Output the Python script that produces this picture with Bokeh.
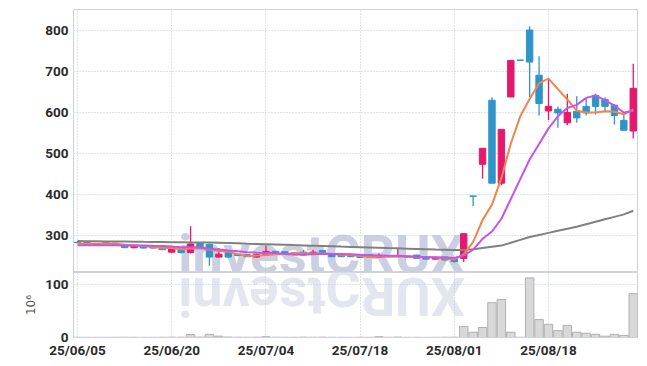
import math
from bokeh.plotting import figure
from bokeh.layouts import column
from bokeh.models import ColumnDataSource, FixedTicker, Label, Range1d
from bokeh.embed import file_html
from bokeh.resources import INLINE

# ---------------- data ----------------
dates = [
    "25/06/05", "25/06/09", "25/06/10", "25/06/11", "25/06/12", "25/06/13",
    "25/06/16", "25/06/17", "25/06/18", "25/06/19", "25/06/20", "25/06/23",
    "25/06/24", "25/06/25", "25/06/26", "25/06/27", "25/06/30", "25/07/01",
    "25/07/02", "25/07/03", "25/07/04", "25/07/07", "25/07/08", "25/07/09",
    "25/07/10", "25/07/11", "25/07/14", "25/07/15", "25/07/16", "25/07/17",
    "25/07/18", "25/07/21", "25/07/22", "25/07/23", "25/07/24", "25/07/25",
    "25/07/28", "25/07/29", "25/07/30", "25/07/31", "25/08/01", "25/08/04",
    "25/08/05", "25/08/06", "25/08/07", "25/08/08", "25/08/11", "25/08/12",
    "25/08/13", "25/08/14", "25/08/18", "25/08/19", "25/08/20", "25/08/21",
    "25/08/22", "25/08/25", "25/08/26", "25/08/27", "25/08/28", "25/08/29",
]
opens = [284, 284, 277, 283, 282, 279, 271, 274, 275, 271,
         260, 267, 259, 282, 279, 248, 259, 255, 254, 248,
         252, 262, 261, 255, 260, 256, 264, 256, 254, 252,
         251, 254, 247, 251, 249, 249, 253, 248, 243, 248,
         244, 245, 397, 474, 630, 428, 638, 728, 801, 691,
         604, 608, 575, 603, 615, 642, 632, 618, 581, 555]
highs = [287, 285, 282, 284, 283, 280, 276, 275, 276, 272,
         271, 268, 323, 284, 281, 270, 260, 256, 255, 256,
         276, 263, 262, 259, 265, 265, 266, 257, 255, 253,
         252, 255, 257, 252, 268, 250, 254, 249, 248, 249,
         245, 306, 397, 513, 637, 559, 727, 728, 810, 737,
         683, 615, 646, 640, 634, 646, 637, 621, 595, 719]
lows = [282, 278, 276, 280, 278, 270, 269, 269, 269, 265,
        259, 257, 257, 272, 227, 247, 247, 250, 248, 247,
        251, 255, 255, 254, 252, 255, 257, 248, 248, 248,
        246, 246, 246, 248, 248, 247, 244, 242, 242, 240,
        235, 236, 372, 439, 428, 423, 638, 727, 638, 592,
        581, 563, 569, 575, 593, 595, 604, 571, 557, 537]
closes = [283, 279, 280, 281, 279, 271, 274, 270, 270, 266,
          271, 259, 280, 273, 248, 255, 248, 252, 249, 254,
          262, 257, 256, 258, 253, 260, 258, 249, 249, 249,
          247, 247, 251, 250, 251, 248, 245, 243, 247, 241,
          237, 305, 396, 513, 428, 559, 727, 727, 723, 622,
          615, 599, 600, 587, 599, 615, 615, 593, 557, 659]
volume = [0.4, 0.3, 0.3, 0.3, 0.4, 0.5, 0.4, 0.3, 0.3, 0.4,
          0.6, 0.5, 5.7, 0.8, 6.0, 2.5, 0.8, 0.5, 0.4, 0.5,
          1.5, 0.5, 0.4, 0.4, 0.6, 0.5, 0.6, 0.4, 0.3, 0.3,
          0.4, 0.4, 1.5, 0.4, 0.8, 0.3, 0.4, 0.3, 0.4, 0.5,
          0.6, 21, 10, 19, 66, 72, 10, 0.5, 113, 34,
          25, 13, 23, 10, 8, 6, 2.5, 6, 4, 83]
ma5 = [281, 280.5, 280.5, 280.5, 280.4, 278, 277, 275, 272.8, 270.2,
       270.2, 267.2, 269.2, 269.8, 266.2, 263, 260.8, 255.2, 250.4, 251.6,
       253, 254.8, 255.6, 257.4, 257.2, 256.8, 257, 255.6, 253.8, 253,
       250.4, 248.2, 248.6, 248.8, 249.2, 249.4, 249, 247.4, 246.8, 244.8,
       242.6, 254.6, 285.2, 338.4, 375.8, 440.2, 524.6, 590.8, 632.8, 671.6,
       682.8, 657.2, 631.8, 604.6, 600, 600, 603.2, 601.8, 595.8, 607.8]
ma10 = [277, 277, 277, 277, 277, 276.5, 276.5, 276, 275.5, 275.3,
        274.1, 272.1, 272.1, 271.3, 268.2, 266.6, 264, 262.2, 260.1, 258.9,
        258, 257.8, 255.4, 253.9, 254.4, 254.9, 255.9, 255.6, 255.6, 255.1,
        253.6, 252.6, 252.1, 251.3, 251.1, 249.9, 248.6, 248, 247.8, 247,
        246, 251.8, 266.3, 292.6, 310.3, 341.4, 389.6, 438, 485.6, 523.7,
        561.5, 590.9, 611.3, 618.7, 635.8, 641.4, 630.2, 616.8, 600.2, 603.9]
ma60 = [287, 286.7, 286.5, 286.2, 285.9, 285.7, 285.4, 285.1, 284.9, 284.6,
        284.3, 284.1, 283.8, 283.5, 283.3, 283, 282.3, 281.6, 280.8, 280.1,
        279.4, 278.7, 278, 277.2, 276.5, 275.8, 275.1, 274.4, 273.6, 272.9,
        272.2, 271.5, 270.8, 270, 269.3, 268.6, 267.9, 267.2, 266.4, 265.7,
        265, 265.5, 267, 270, 273, 276, 283, 290, 297, 302,
        307, 312, 317, 322, 328, 334, 340, 346, 352, 361]
tick_labels = ["25/06/05", "25/06/20", "25/07/04", "25/07/18", "25/08/01", "25/08/18"]
price_ticks = [300, 400, 500, 600, 700, 800]
vol_ticks = [0, 100]
watermark = "investCRUX"

# ---------------- styling ----------------
UP = "#e5196c"
DOWN = "#2f95c8"
GRID = "#bfc6d8"
BORDER = "#cfd2da"
FONT = "Roboto"
TICK_PX = "13.5px"
WM_FONT_PX = 54
PX_PER_BAR = 9.42

xs = list(range(len(dates)))
src = ColumnDataSource(dict(
    x=xs, o=opens, h=highs, l=lows, c=closes,
    top=[max(a, b) for a, b in zip(opens, closes)],
    bot=[min(a, b) for a, b in zip(opens, closes)],
    color=[UP if c > o else DOWN for o, c in zip(opens, closes)],
    vol=volume, ma5=ma5, ma10=ma10, ma60=ma60,
))
tick_idx = [dates.index(t) for t in tick_labels]

xr = Range1d(-0.43, 59.45)

p = figure(width=639, height=272, x_range=xr, y_range=Range1d(210.5, 851),
           output_backend="svg", toolbar_location=None,
           min_border_left=73, min_border_right=2, min_border_top=9, min_border_bottom=0)
p.xaxis.visible = False
p.outline_line_color = BORDER
p.yaxis.ticker = FixedTicker(ticks=price_ticks)
p.xgrid.ticker = FixedTicker(ticks=tick_idx)
p.grid.grid_line_color = GRID
p.grid.grid_line_dash = "1 2"
p.yaxis.axis_line_color = BORDER
p.yaxis.major_tick_line_color = None
p.yaxis.minor_tick_line_color = None
p.yaxis.major_tick_out = 0
p.yaxis.major_label_standoff = 5
p.yaxis.major_label_text_font = FONT
p.yaxis.major_label_text_font_size = TICK_PX
p.yaxis.major_label_text_font_style = "bold"
p.yaxis.major_label_text_color = "#2b2b2b"

# watermark (upright part, in the price pane)
wm = Label(x=10.7, y=254.5, text=watermark, text_font="Roboto", text_font_size=f"{WM_FONT_PX}px",
           text_font_style="bold", text_color="#cad0e1", text_align="left",
           text_baseline="middle", level="image")
p.add_layout(wm)

p.segment(x0="x", y0="l", x1="x", y1="h", color="color", line_width=1.3, source=src)
p.vbar(x="x", top="top", bottom="bot", width=0.68, fill_color="color", line_color="color",
       line_width=1, source=src)
p.line("x", "ma60", source=src, line_color="#808080", line_width=2)
p.line("x", "ma5", source=src, line_color="#f0844c", line_width=2)
p.line("x", "ma10", source=src, line_color="#c653ea", line_width=2)

v = figure(width=639, height=88, x_range=xr, y_range=Range1d(0, 123.2),
           output_backend="svg", toolbar_location=None,
           min_border_left=73, min_border_right=2, min_border_top=0, min_border_bottom=0)
v.outline_line_color = BORDER
v.yaxis.ticker = FixedTicker(ticks=vol_ticks)
v.ygrid.ticker = FixedTicker(ticks=[100])
v.xaxis.ticker = FixedTicker(ticks=tick_idx)
v.xgrid.ticker = FixedTicker(ticks=tick_idx)
v.xaxis.major_label_overrides = {i: t for i, t in zip(tick_idx, tick_labels)}
v.grid.grid_line_color = GRID
v.grid.grid_line_dash = "1 2"
for ax in (v.xaxis, v.yaxis):
    ax.axis_line_color = BORDER
    ax.major_tick_line_color = None
    ax.minor_tick_line_color = None
    ax.major_tick_out = 0
    ax.major_label_standoff = 5
    ax.major_label_text_font = FONT
    ax.major_label_text_font_size = TICK_PX
    ax.major_label_text_font_style = "bold"
    ax.major_label_text_color = "#2b2b2b"
v.xaxis.major_label_standoff = 4
v.yaxis.axis_label = "10⁶"
v.yaxis.axis_label_text_font = "DejaVu Sans"
v.yaxis.axis_label_text_font_size = "12px"
v.yaxis.axis_label_text_font_style = "normal"
v.yaxis.axis_label_text_color = "#555555"
v.yaxis.axis_label_standoff = 4

# mirrored watermark (reflection in the volume pane), one glyph at a time
wm_w = {"i": 0.26, "n": 0.56, "v": 0.50, "e": 0.54, "s": 0.52, "t": 0.34,
        "C": 0.66, "R": 0.64, "U": 0.65, "X": 0.64}
cursor = 10.7
for ch in watermark:
    w = wm_w[ch] * WM_FONT_PX / PX_PER_BAR
    cx = cursor + w / 2
    if ch == "C":
        lab = Label(x=cx, y=92.5, text=ch, angle=0)
    else:
        lab = Label(x=cx, y=78, text=ch, angle=math.pi)
    lab.text_font = "Roboto"
    lab.text_font_size = f"{WM_FONT_PX}px"
    lab.text_font_style = "bold"
    lab.text_color = "#e3e6ef"
    lab.text_align = "center"
    lab.text_baseline = "middle"
    lab.level = "image"
    v.add_layout(lab)
    cursor += w

v.vbar(x="x", top="vol", bottom=0, width=0.9, fill_color="#d8d8d8", line_color="#b0b0b0",
       line_width=1, source=src)

layout = column(p, v, spacing=0)
open("out.html", "w").write(file_html(layout, INLINE))
